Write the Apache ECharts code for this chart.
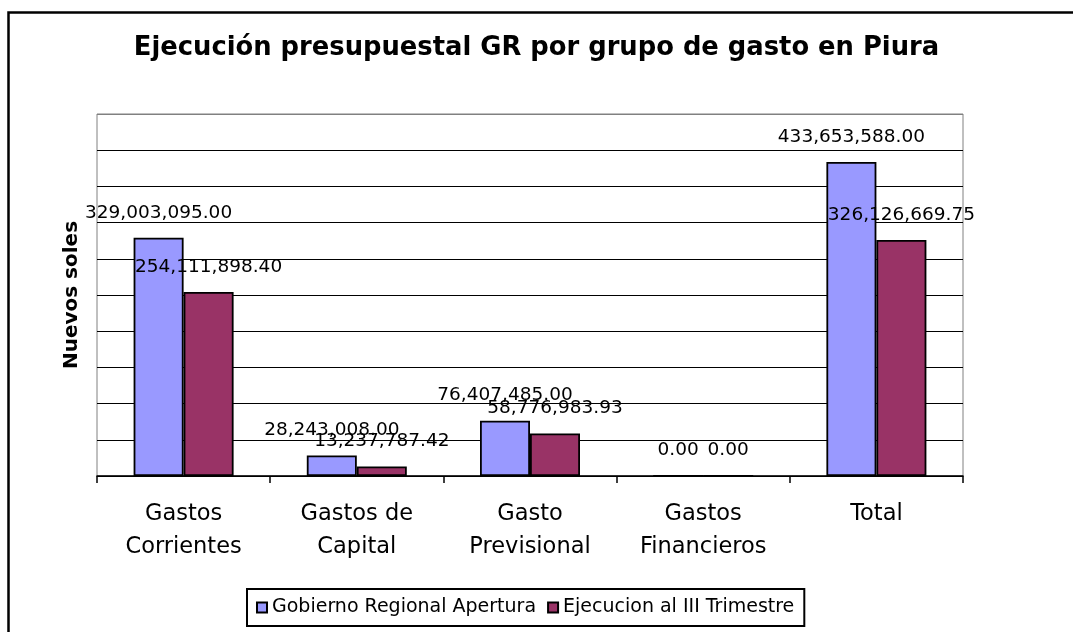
<!DOCTYPE html>
<html>
<head>
<meta charset="utf-8">
<script src="https://cdn.jsdelivr.net/npm/echarts@6/dist/echarts.min.js"></script>
<style>
  html, body { margin: 0; padding: 0; background: #fff; }
  #chart { width: 1073px; height: 632px; }
</style>
</head>
<body>
<div id="chart"></div>
<script>
const categories = ['Gastos\nCorrientes', 'Gastos de\nCapital', 'Gasto\nPrevisional', 'Gastos\nFinancieros', 'Total'];
const apertura = [329003095.00, 28243008.00, 76407485.00, 0.00, 433653588.00];
const ejecucion = [254111898.40, 13237787.42, 58776983.93, 0.00, 326126669.75];
const seriesNames = ['Gobierno Regional Apertura', 'Ejecucion al III Trimestre'];

const FONT = 'DejaVu Sans';

function fmt(v) {
  return v.toLocaleString('en-US', { minimumFractionDigits: 2, maximumFractionDigits: 2 });
}

// gridlines black, the top one (max) grey like the plot border
const gridColors = [];
for (let i = 0; i < 10; i++) gridColors.push('#000');
gridColors.push('#808080');

const chart = echarts.init(document.getElementById('chart'), null, { renderer: 'canvas' });

const barLabel = {
  show: true,
  position: 'top',
  distance: 15.5,
  color: '#000',
  fontFamily: FONT,
  fontSize: 18.5,
  formatter: p => fmt(p.value)
};

const option = {
  backgroundColor: '#fff',
  animation: false,
  title: {
    text: 'Ejecución presupuestal GR por grupo de gasto en Piura',
    left: 'center',
    top: 35,
    padding: 0,
    textStyle: { fontFamily: FONT, fontSize: 25.8, fontWeight: 'bold', color: '#000' }
  },
  graphic: [{
    type: 'rect',
    shape: { x: 8.5, y: 12.5, width: 1200, height: 800 },
    style: { fill: 'none', stroke: '#000', lineWidth: 2.5 },
    silent: true,
    z: -1
  }],
  legend: {
    data: seriesNames,
    left: 247,
    top: 589,
    padding: [9, 10, 9, 9],
    itemGap: 11,
    itemWidth: 10,
    itemHeight: 10,
    icon: 'rect',
    borderColor: '#000',
    borderWidth: 2,
    textStyle: { fontFamily: FONT, fontSize: 19, color: '#000' }
  },
  grid: {
    left: 97,
    right: 110,
    top: 114,
    bottom: 156,
    show: true,
    borderColor: '#808080',
    borderWidth: 1
  },
  xAxis: {
    type: 'category',
    data: categories,
    axisLine: { show: true, lineStyle: { color: '#000', width: 1.5 } },
    axisTick: { show: true, length: 7, interval: 0, lineStyle: { color: '#000', width: 1.5 } },
    axisLabel: {
      interval: 0,
      margin: 22,
      color: '#000',
      fontFamily: FONT,
      fontSize: 22.5,
      lineHeight: 33
    }
  },
  yAxis: {
    type: 'value',
    min: 0,
    max: 500000000,
    interval: 50000000,
    name: 'Nuevos soles',
    nameLocation: 'middle',
    nameRotate: 90,
    nameGap: 15,
    nameTextStyle: { fontFamily: FONT, fontSize: 20, fontWeight: 'bold', color: '#000' },
    axisLine: { show: false },
    axisTick: { show: false },
    axisLabel: { show: false },
    splitLine: { show: true, lineStyle: { color: gridColors, width: 1.2 } }
  },
  series: [
    {
      name: seriesNames[0],
      type: 'bar',
      data: apertura,
      barWidth: 50,
      barGap: '0%',
      itemStyle: { color: '#9999FF', borderColor: '#000', borderWidth: 1.8 },
      label: barLabel
    },
    {
      name: seriesNames[1],
      type: 'bar',
      data: ejecucion,
      barWidth: 50,
      barGap: '0%',
      itemStyle: { color: '#993366', borderColor: '#000', borderWidth: 1.8 },
      label: barLabel
    }
  ]
};

chart.setOption(option);
</script>
</body>
</html>
